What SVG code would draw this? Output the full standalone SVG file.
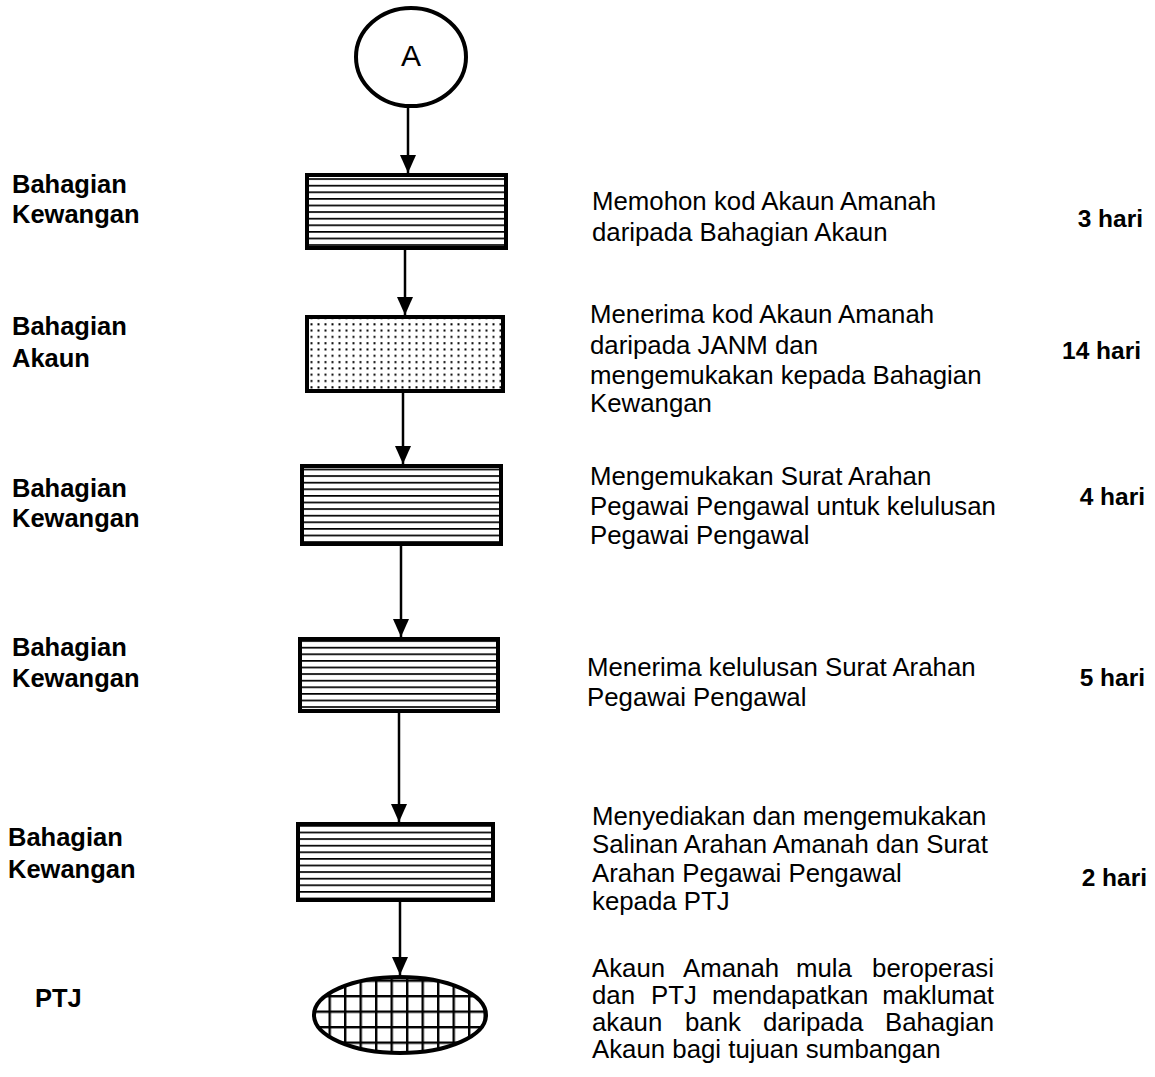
<svg xmlns="http://www.w3.org/2000/svg" width="1155" height="1077" viewBox="0 0 1155 1077">
<style>
.lbl{font-family:"Liberation Sans",Arial,sans-serif;font-weight:bold;font-size:25.5px;fill:#000}
.txt{font-family:"Liberation Sans",Arial,sans-serif;font-size:25.8px;fill:#000}
.day{font-family:"Liberation Sans",Arial,sans-serif;font-weight:bold;font-size:24.5px;fill:#000;text-anchor:end}
.big{font-family:"Liberation Sans",Arial,sans-serif;font-size:30px;fill:#000;text-anchor:middle}
.box{stroke:#000;stroke-width:4}
.conn{stroke:#000;stroke-width:2.5;fill:none}
</style>
<defs>
<pattern id="hlines" patternUnits="userSpaceOnUse" width="10" height="6.6">
<rect width="10" height="6.6" fill="#fff"/>
<rect y="0" width="10" height="1.7" fill="#000"/>
</pattern>
<pattern id="dots" patternUnits="userSpaceOnUse" width="7" height="6.3">
<rect width="7" height="6.3" fill="#fff"/>
<rect x="2.5" y="2" width="2" height="2" fill="#000"/>
</pattern>
<pattern id="grid" patternUnits="userSpaceOnUse" x="3" y="3" width="15.5" height="15.5">
<rect width="15.5" height="15.5" fill="#fff"/>
<rect width="2.4" height="15.5" fill="#000"/>
<rect width="15.5" height="2.4" fill="#000"/>
</pattern>
<marker id="ah" markerUnits="userSpaceOnUse" markerWidth="18" markerHeight="18" refX="18" refY="8" orient="auto">
<path d="M0,0 L18,8 L0,16 Z" fill="#000"/>
</marker>
</defs>

<g id="connectors">
<line class="conn" x1="408" y1="107" x2="408" y2="173" marker-end="url(#ah)"/>
<line class="conn" x1="405" y1="250" x2="405" y2="315" marker-end="url(#ah)"/>
<line class="conn" x1="403" y1="393" x2="403" y2="464" marker-end="url(#ah)"/>
<line class="conn" x1="401" y1="546" x2="401" y2="637" marker-end="url(#ah)"/>
<line class="conn" x1="399" y1="713" x2="399" y2="822" marker-end="url(#ah)"/>
<line class="conn" x1="400" y1="902" x2="400" y2="975" marker-end="url(#ah)"/>
</g>

<g id="start">
<ellipse cx="411" cy="57" rx="55" ry="49" fill="#fff" stroke="#000" stroke-width="4"/>
<text x="411" y="66" class="big">A</text>
</g>

<g id="step1">
<rect class="box" x="307" y="175" width="199" height="73" fill="url(#hlines)"/>
<text class="lbl" x="12" y="193">Bahagian</text>
<text class="lbl" x="12" y="223">Kewangan</text>
<text class="txt" x="592" y="210">Memohon kod Akaun Amanah</text>
<text class="txt" x="592" y="241">daripada Bahagian Akaun</text>
<text class="day" x="1143" y="227">3 hari</text>
</g>

<g id="step2">
<rect class="box" x="307" y="317" width="196" height="74" fill="url(#dots)"/>
<text class="lbl" x="12" y="335">Bahagian</text>
<text class="lbl" x="12" y="367">Akaun</text>
<text class="txt" x="590" y="323">Menerima kod Akaun Amanah</text>
<text class="txt" x="590" y="354">daripada JANM dan</text>
<text class="txt" x="590" y="384">mengemukakan kepada Bahagian</text>
<text class="txt" x="590" y="412">Kewangan</text>
<text class="day" x="1141" y="359">14 hari</text>
</g>

<g id="step3">
<rect class="box" x="302" y="466" width="199" height="78" fill="url(#hlines)"/>
<text class="lbl" x="12" y="497">Bahagian</text>
<text class="lbl" x="12" y="527">Kewangan</text>
<text class="txt" x="590" y="485">Mengemukakan Surat Arahan</text>
<text class="txt" x="590" y="515">Pegawai Pengawal untuk kelulusan</text>
<text class="txt" x="590" y="544">Pegawai Pengawal</text>
<text class="day" x="1145" y="505">4 hari</text>
</g>

<g id="step4">
<rect class="box" x="300" y="639" width="198" height="72" fill="url(#hlines)"/>
<text class="lbl" x="12" y="656">Bahagian</text>
<text class="lbl" x="12" y="687">Kewangan</text>
<text class="txt" x="587" y="676">Menerima kelulusan Surat Arahan</text>
<text class="txt" x="587" y="706">Pegawai Pengawal</text>
<text class="day" x="1145" y="686">5 hari</text>
</g>

<g id="step5">
<rect class="box" x="298" y="824" width="195" height="76" fill="url(#hlines)"/>
<text class="lbl" x="8" y="846">Bahagian</text>
<text class="lbl" x="8" y="878">Kewangan</text>
<text class="txt" x="592" y="825">Menyediakan dan mengemukakan</text>
<text class="txt" x="592" y="853">Salinan Arahan Amanah dan Surat</text>
<text class="txt" x="592" y="882">Arahan Pegawai Pengawal</text>
<text class="txt" x="592" y="910">kepada PTJ</text>
<text class="day" x="1147" y="886">2 hari</text>
</g>

<g id="end">
<ellipse cx="400" cy="1015" rx="86" ry="38" fill="url(#grid)" stroke="#000" stroke-width="4"/>
<text class="lbl" x="35" y="1007">PTJ</text>
<text class="txt" y="977"><tspan x="592">Akaun</tspan><tspan x="683">Amanah</tspan><tspan x="796">mula</tspan><tspan x="994" text-anchor="end">beroperasi</tspan></text>
<text class="txt" y="1004"><tspan x="592">dan</tspan><tspan x="651">PTJ</tspan><tspan x="712">mendapatkan</tspan><tspan x="994" text-anchor="end">maklumat</tspan></text>
<text class="txt" y="1031"><tspan x="592">akaun</tspan><tspan x="685">bank</tspan><tspan x="763">daripada</tspan><tspan x="994" text-anchor="end">Bahagian</tspan></text>
<text class="txt" x="592" y="1058">Akaun bagi tujuan sumbangan</text>
</g>
</svg>
